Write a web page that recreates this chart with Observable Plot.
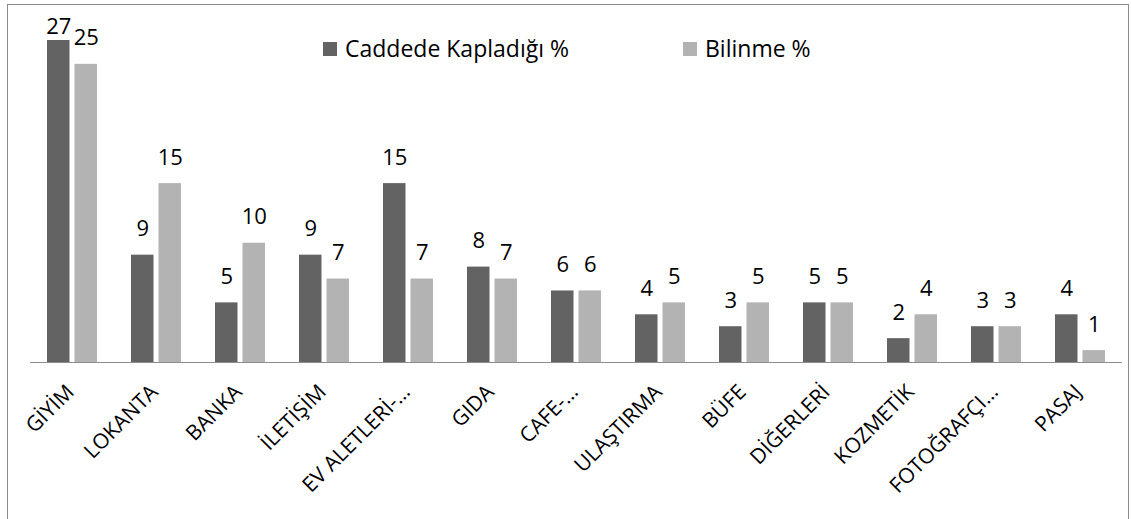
<!DOCTYPE html>
<html>
<head>
<meta charset="utf-8">
<script src="https://cdn.jsdelivr.net/npm/d3@7"></script>
<script src="https://cdn.jsdelivr.net/npm/@observablehq/plot@0.6"></script>
<style>
  html, body { margin: 0; padding: 0; background: #fff; overflow: hidden; }
  #wrap { position: relative; width: 1131px; height: 519px; overflow: hidden; font-family: "Open Sans", Lato, sans-serif; }
  #frame { position: absolute; left: 7px; top: 4px; width: 1122px; height: 540px; border: 1px solid #8c8c8c; box-sizing: border-box; }
  #chart { position: absolute; left: 0; top: 0; }
  .leg { position: absolute; top: 33px; height: 31px; line-height: 31px; display: flex; align-items: center; font-size: 23px; color: #000; white-space: nowrap; }
  .leg i { display: inline-block; width: 14px; height: 14px; margin-right: 8px; }
</style>
</head>
<body>
<div id="wrap">
  <div id="frame"></div>
  <div id="chart"></div>
  <div id="legend"></div>
</div>
<script>
const categories = ["GİYİM", "LOKANTA", "BANKA", "İLETİŞİM", "EV ALETLERİ-…", "GIDA", "CAFE-…", "ULAŞTIRMA", "BÜFE", "DİĞERLERİ", "KOZMETİK", "FOTOĞRAFÇI…", "PASAJ"];
const seriesNames = ["Caddede Kapladığı %", "Bilinme %"];
const caddede = [27, 9, 5, 9, 15, 8, 6, 4, 3, 5, 2, 3, 4];
const bilinme = [25, 15, 10, 7, 7, 7, 6, 5, 5, 5, 4, 3, 1];
const colors = ["#636363", "#b3b3b3"];
const yMax = 27;

const rowsA = categories.map((c, i) => ({cat: c, value: caddede[i]}));
const rowsB = categories.map((c, i) => ({cat: c, value: bilinme[i]}));
const atTop = d => d.value >= yMax;
const below = d => d.value < yMax;

function labels(rows, dx) {
  return [
    Plot.text(rows.filter(below), {x: "cat", y: "value", text: d => String(d.value), dx, dy: -19, lineAnchor: "bottom", fontSize: 22, fill: "#000"}),
    Plot.text(rows.filter(atTop), {x: "cat", y: "value", text: d => String(d.value), dx, dy: -7, lineAnchor: "bottom", fontSize: 22, fill: "#000"})
  ];
}

const chart = Plot.plot({
  width: 1131,
  height: 519,
  marginLeft: 30,
  marginRight: 9,
  marginTop: 40,
  marginBottom: 157,
  x: {domain: categories, padding: 0, axis: null, label: null},
  y: {domain: [0, yMax], axis: null},
  style: {fontFamily: "'Open Sans', Lato, sans-serif", background: "transparent", color: "#000"},
  marks: [
    Plot.barY(rowsA, {x: "cat", y: "value", fill: colors[0], insetLeft: 17, insetRight: 44.5}),
    Plot.barY(rowsB, {x: "cat", y: "value", fill: colors[1], insetLeft: 44.5, insetRight: 17}),
    Plot.ruleY([0], {stroke: "#8c8c8c", strokeWidth: 1.2}),
    ...labels(rowsA, -13.75),
    ...labels(rowsB, 13.75),
    Plot.axisX({tickRotate: -45, tickSize: 0, tickPadding: 26, dx: -2, fontSize: 21, fill: "#000", textAnchor: "end", label: null})
  ]
});
document.getElementById("chart").appendChild(chart);

const legend = document.getElementById("legend");
const legLeft = [323, 683];
seriesNames.forEach((name, i) => {
  const d = document.createElement("div");
  d.className = "leg";
  d.style.left = legLeft[i] + "px";
  d.innerHTML = `<i style="background:${colors[i]}"></i><span>${name}</span>`;
  legend.appendChild(d);
});
</script>
</body>
</html>
